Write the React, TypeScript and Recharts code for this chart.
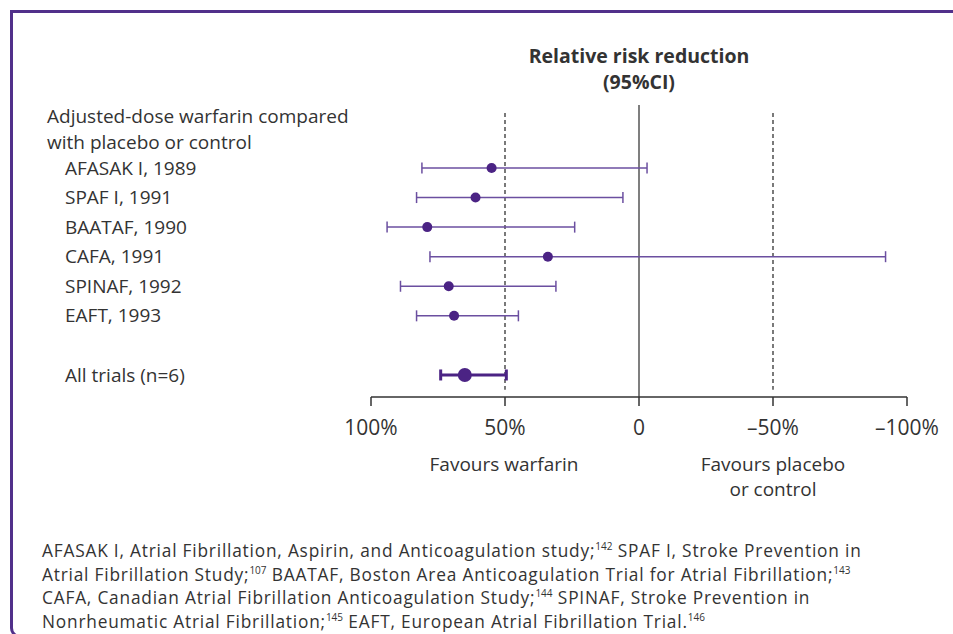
import {
  ErrorBar,
  ReferenceLine,
  Scatter,
  ScatterChart,
  XAxis,
  YAxis,
} from "recharts";

const trialNames = [
  "AFASAK I, 1989",
  "SPAF I, 1991",
  "BAATAF, 1990",
  "CAFA, 1991",
  "SPINAF, 1992",
  "EAFT, 1993",
];
const trialRrr = [55, 61, 79, 34, 71, 69];
const trialCiHigh = [81, 83, 94, 78, 89, 83];
const trialCiLow = [-3, 6, 24, -92, 31, 45];

const pooledName = "All trials (n=6)";
const pooledRrr = 65;
const pooledCiHigh = 74;
const pooledCiLow = 49.5;

const xTicks = [100, 50, 0, -50, -100];
const headerLines = ["Adjusted-dose warfarin compared", "with placebo or control"];

const PURPLE = "#4b2384";
const BAR_PURPLE = "#6b4fa0";
const TEXT = "#333333";
const FONT = "'Open Sans', 'Noto Sans', sans-serif";

// row index on the y axis: trials 0..5, a blank row, then pooled
const trialData = trialNames.map((name, i) => ({
  name,
  row: i,
  rrr: trialRrr[i],
  err: [trialRrr[i] - trialCiLow[i], trialCiHigh[i] - trialRrr[i]],
}));
const pooledData = [
  {
    name: pooledName,
    row: trialNames.length + 1,
    rrr: pooledRrr,
    err: [pooledRrr - pooledCiLow, pooledCiHigh - pooledRrr],
  },
];
const rowLabels = [...trialData, ...pooledData];

function formatTick(value: number): string {
  if (value === 0) return "0";
  return value < 0 ? `\u2013${Math.abs(value)}%` : `${value}%`;
}

function RowLabel({ y, payload }: { y?: number; payload?: { value: number } }) {
  const item = rowLabels.find((r) => r.row === payload?.value);
  if (!item) return null;
  return (
    <text x={65} y={y} dy="0.35em" fill={TEXT} fontSize={19} fontFamily={FONT}>
      {item.name}
    </text>
  );
}

function Dot({ cx, cy, r }: { cx?: number; cy?: number; r: number }) {
  return <circle cx={cx} cy={cy} r={r} fill={PURPLE} />;
}

const supStyle = {
  fontSize: 10,
  lineHeight: 0,
  letterSpacing: 0,
  position: "relative" as const,
  top: "-0.7em",
  verticalAlign: "baseline",
};

export default function App() {
  return (
    <div
      style={{
        position: "absolute",
        left: 0,
        top: 0,
        width: 953,
        height: 634,
        overflow: "hidden",
        background: "#fff",
        fontFamily: FONT,
        color: TEXT,
      }}
    >
      <div
        style={{
          position: "absolute",
          left: 10,
          top: 10,
          width: 960,
          height: 622,
          border: "3px solid #51308a",
          borderRadius: "0 10px 10px 10px",
        }}
      />
      <div
        style={{
          position: "absolute",
          left: 439,
          width: 400,
          top: 43,
          textAlign: "center",
          fontWeight: 700,
          fontSize: 19.5,
          lineHeight: "26px",
        }}
      >
        Relative risk reduction
        <br />
        (95%CI)
      </div>
      <div style={{ position: "absolute", left: 47, top: 103, fontSize: 19, lineHeight: "26px" }}>
        {headerLines.map((line) => (
          <div key={line}>{line}</div>
        ))}
      </div>
      <ScatterChart
        width={953}
        height={634}
        margin={{ top: 105, right: 46, bottom: 207, left: 41 }}
        style={{ position: "absolute", left: 0, top: 0 }}
      >
        <XAxis
          type="number"
          dataKey="rrr"
          domain={[-100, 100]}
          reversed
          ticks={xTicks}
          tickFormatter={formatTick}
          tick={{ fill: TEXT, fontSize: 21, fontFamily: FONT }}
          axisLine={{ stroke: TEXT, strokeWidth: 1.5 }}
          tickLine={{ stroke: TEXT, strokeWidth: 1.5 }}
          tickSize={9}
          tickMargin={14}
          height={30}
          allowDataOverflow
        />
        <YAxis
          type="number"
          dataKey="row"
          domain={[-2.13, 7.745]}
          reversed
          ticks={rowLabels.map((r) => r.row)}
          tick={<RowLabel />}
          axisLine={false}
          tickLine={false}
          width={330}
          allowDataOverflow
        />
        <ReferenceLine x={0} stroke="#555" strokeWidth={1.5} />
        <ReferenceLine
          segment={[
            { x: 50, y: -1.86 },
            { x: 50, y: 7.5 },
          ]}
          stroke="#333"
          strokeWidth={1.3}
          strokeDasharray="4 3"
        />
        <ReferenceLine
          segment={[
            { x: -50, y: -1.86 },
            { x: -50, y: 7.5 },
          ]}
          stroke="#333"
          strokeWidth={1.3}
          strokeDasharray="4 3"
        />
        <Scatter data={trialData} isAnimationActive={false} shape={<Dot r={5} />}>
          <ErrorBar
            dataKey="err"
            direction="x"
            width={5.5}
            stroke={BAR_PURPLE}
            strokeWidth={1.5}
            isAnimationActive={false}
          />
        </Scatter>
        <Scatter data={pooledData} isAnimationActive={false} shape={<Dot r={7} />}>
          <ErrorBar
            dataKey="err"
            direction="x"
            width={5.5}
            stroke={PURPLE}
            strokeWidth={3}
            isAnimationActive={false}
          />
        </Scatter>
      </ScatterChart>
      <div
        style={{
          position: "absolute",
          left: 414,
          width: 180,
          top: 452,
          textAlign: "center",
          fontSize: 19,
          lineHeight: "25px",
        }}
      >
        Favours warfarin
      </div>
      <div
        style={{
          position: "absolute",
          left: 683,
          width: 180,
          top: 452,
          textAlign: "center",
          fontSize: 19,
          lineHeight: "25px",
        }}
      >
        Favours placebo
        <br />
        or control
      </div>
      <div
        style={{
          position: "absolute",
          left: 42,
          top: 539,
          fontSize: 17.3,
          letterSpacing: 0.8,
          lineHeight: "23.7px",
          whiteSpace: "nowrap",
        }}
      >
        AFASAK I, Atrial Fibrillation, Aspirin, and Anticoagulation study;<sup style={supStyle}>142</sup> SPAF I, Stroke Prevention in
        <br />
        Atrial Fibrillation Study;<sup style={supStyle}>107</sup> BAATAF, Boston Area Anticoagulation Trial for Atrial Fibrillation;<sup style={supStyle}>143</sup>
        <br />
        CAFA, Canadian Atrial Fibrillation Anticoagulation Study;<sup style={supStyle}>144</sup> SPINAF, Stroke Prevention in
        <br />
        Nonrheumatic Atrial Fibrillation;<sup style={supStyle}>145</sup> EAFT, European Atrial Fibrillation Trial.<sup style={supStyle}>146</sup>
      </div>
    </div>
  );
}
